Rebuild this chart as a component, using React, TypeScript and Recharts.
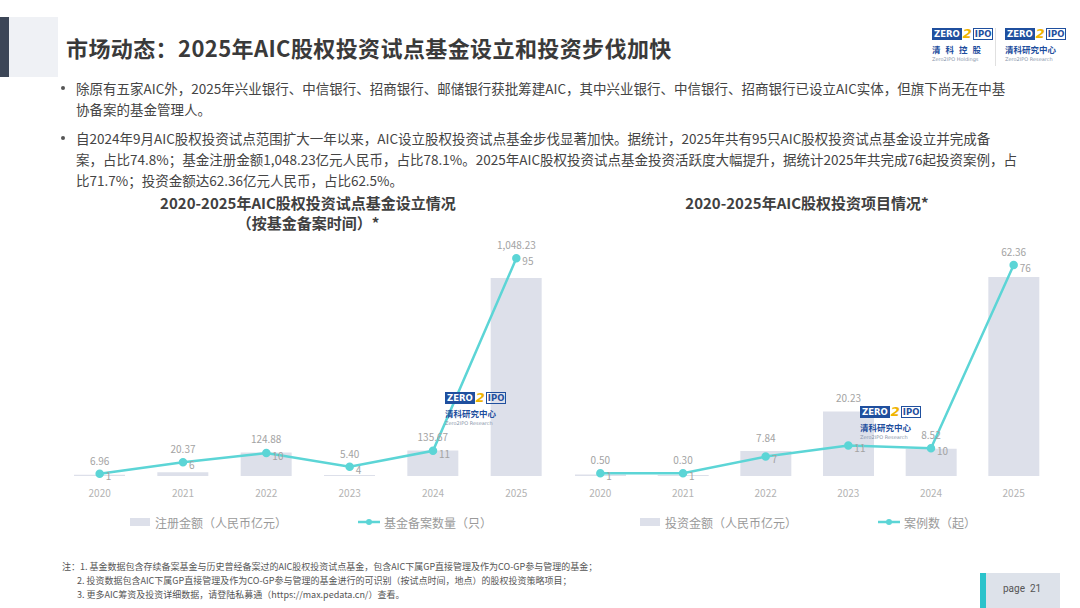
import React from "react";
import { ComposedChart, Bar, Line, XAxis, YAxis, LabelList, Legend } from "recharts";

const years = ["2020", "2021", "2022", "2023", "2024", "2025"];
// 注册金额（人民币亿元）/ 基金备案数量（只）
const fundAmount = [6.96, 20.37, 124.88, 5.4, 135.67, 1048.23];
const fundCount = [1, 6, 10, 4, 11, 95];
// 投资金额（人民币亿元）/ 案例数（起）
const investAmount = [0.5, 0.3, 7.84, 20.23, 8.52, 62.36];
const investCases = [1, 1, 7, 11, 10, 76];

const FONT = '"Noto Sans CJK SC", "Noto Sans", sans-serif';
const BAR = "#dde0ea";
const TEAL = "#5cd5d6";

const fmt = (v: any) =>
  v == null ? "" : Number(v).toLocaleString("en-US", { minimumFractionDigits: 2, maximumFractionDigits: 2 });

// amount label sits on whichever mark stands higher
const buildRows = (amount: number[], count: number[], amtMax: number, cntMax: number) =>
  years.map((year, i) => {
    const barHigher = amount[i] / amtMax >= count[i] / cntMax;
    return {
      year,
      amount: amount[i],
      count: count[i],
      amtOnBar: barHigher ? amount[i] : null,
      amtOnLine: barHigher ? null : amount[i],
    };
  });

const CountLabel = (props: any) => {
  const { x, y, value } = props;
  if (value == null) return null;
  return (
    <text x={x + 6} y={y + 4} dominantBaseline="middle" fill="#a3a3a3" fontSize={10} fontFamily={FONT}>
      {value}
    </text>
  );
};

interface ComboProps {
  amount: number[];
  count: number[];
  amtMax: number;
  cntMax: number;
  width: number;
  barLabel: string;
  lineLabel: string;
  legendPad: number;
  legendGap: number;
}

const ComboChart: React.FC<ComboProps> = ({ amount, count, amtMax, cntMax, width, barLabel, lineLabel, legendPad, legendGap }) => {
  const data = buildRows(amount, count, amtMax, cntMax);
  const labelStyle = { fill: "#a3a3a3", fontSize: 10, fontFamily: FONT };

  const legend = () => (
    <div style={{ height: 40, display: "flex", alignItems: "center", paddingLeft: legendPad, fontFamily: FONT, fontSize: 12, color: "#9a9a9a" }}>
      <div style={{ display: "flex", alignItems: "center", width: legendGap }}>
        <span style={{ display: "inline-block", width: 20, height: 8, background: BAR, marginRight: 5 }} />
        {barLabel}
      </div>
      <div style={{ display: "flex", alignItems: "center" }}>
        <svg width={22} height={10} style={{ marginRight: 4 }}>
          <line x1={0} y1={5} x2={22} y2={5} stroke={TEAL} strokeWidth={2.5} />
          <circle cx={11} cy={5} r={3} fill={TEAL} />
        </svg>
        {lineLabel}
      </div>
    </div>
  );

  return (
    <ComposedChart width={width} height={312} data={data} margin={{ top: 10, right: 0, bottom: 0, left: 0 }}>
      <XAxis
        dataKey="year"
        axisLine={false}
        tickLine={false}
        height={26}
        tick={{ fill: "#b3b3b3", fontSize: 10, fontFamily: FONT, dy: 6 }}
      />
      <YAxis yAxisId="amt" hide domain={[0, amtMax]} />
      <YAxis yAxisId="cnt" hide orientation="right" domain={[0, cntMax]} />
      <Legend verticalAlign="bottom" content={legend} />
      <Bar yAxisId="amt" dataKey="amount" fill={BAR} barSize={51} isAnimationActive={false}>
        <LabelList dataKey="amtOnBar" position="top" offset={9} formatter={fmt} style={labelStyle} />
      </Bar>
      <Line
        yAxisId="cnt"
        dataKey="count"
        type="linear"
        stroke={TEAL}
        strokeWidth={2.5}
        dot={{ r: 3, fill: TEAL, stroke: TEAL }}
        activeDot={false}
        isAnimationActive={false}
      >
        <LabelList dataKey="amtOnLine" position="top" offset={9} formatter={fmt} style={labelStyle} />
        <LabelList dataKey="count" content={CountLabel} />
      </Line>
    </ComposedChart>
  );
};

const Logo: React.FC<{ x: number; y: number; line1: string; line2: string; spaced?: boolean }> = ({ x, y, line1, line2, spaced }) => (
  <div style={{ position: "absolute", left: x, top: y, width: 54, fontFamily: "DejaVu Sans, sans-serif" }}>
    <div style={{ display: "flex", alignItems: "center", height: 13 }}>
      <span style={{ background: "#1f4f9e", color: "#fff", fontSize: 8.5, fontWeight: 700, padding: "0 2px", lineHeight: "12px" }}>ZERO</span>
      <span style={{ color: "#f0b400", fontSize: 13, fontWeight: 700, fontStyle: "italic", lineHeight: "13px", margin: "0 1px" }}>2</span>
      <span style={{ color: "#1f4f9e", border: "1px solid #1f4f9e", fontSize: 8.5, fontWeight: 700, padding: "0 1px", lineHeight: "10px" }}>IPO</span>
    </div>
    <div style={{ color: "#1f4f9e", fontFamily: FONT, fontWeight: 700, fontSize: 8.5, marginTop: 3, letterSpacing: spaced ? 5 : 0, whiteSpace: "nowrap" }}>{line1}</div>
    <div style={{ color: "#8a96aa", fontSize: 5, marginTop: 1, whiteSpace: "nowrap" }}>{line2}</div>
  </div>
);

const bullets = [
  { y: 78, text: "除原有五家AIC外，2025年兴业银行、中信银行、招商银行、邮储银行获批筹建AIC，其中兴业银行、中信银行、招商银行已设立AIC实体，但旗下尚无在中基", dot: true },
  { y: 99, text: "协备案的基金管理人。", dot: false },
  { y: 128, text: "自2024年9月AIC股权投资试点范围扩大一年以来，AIC设立股权投资试点基金步伐显著加快。据统计，2025年共有95只AIC股权投资试点基金设立并完成备", dot: true },
  { y: 149, text: "案，占比74.8%；基金注册金额1,048.23亿元人民币，占比78.1%。2025年AIC股权投资试点基金投资活跃度大幅提升，据统计2025年共完成76起投资案例，占", dot: false },
  { y: 170, text: "比71.7%；投资金额达62.36亿元人民币，占比62.5%。", dot: false },
];

const notes = [
  { x: 62, y: 561, text: "注：1. 基金数据包含存续备案基金与历史曾经备案过的AIC股权投资试点基金，包含AIC下属GP直接管理及作为CO-GP参与管理的基金；" },
  { x: 77, y: 575, text: "2. 投资数据包含AIC下属GP直接管理及作为CO-GP参与管理的基金进行的可识别（按试点时间，地点）的股权投资策略项目；" },
  { x: 77, y: 589, text: "3. 更多AIC筹资及投资详细数据，请登陆私募通（https://max.pedata.cn/）查看。" },
];

const titleStyle: React.CSSProperties = {
  position: "absolute",
  textAlign: "center",
  fontSize: 15,
  fontWeight: 700,
  color: "#404040",
  lineHeight: "20px",
  whiteSpace: "nowrap",
};

export default function App() {
  return (
    <div style={{ position: "absolute", left: 0, top: 0, width: 1080, height: 608, background: "#fff", overflow: "hidden", fontFamily: FONT }}>
      <div style={{ position: "absolute", left: 0, top: 17, width: 9, height: 60, background: "#3c4657" }} />
      <div style={{ position: "absolute", left: 9, top: 17, width: 49, height: 60, background: "#eff1f5" }} />
      <div style={{ position: "absolute", left: 66, top: 32, fontSize: 22, fontWeight: 700, color: "#3a3a3a", whiteSpace: "nowrap", lineHeight: "30px", letterSpacing: 0.4 }}>
        市场动态：2025年AIC股权投资试点基金设立和投资步伐加快
      </div>

      <Logo x={932} y={27} line1="清科控股" line2="Zero2IPO Holdings" spaced />
      <div style={{ position: "absolute", left: 995, top: 28, width: 1, height: 38, background: "#e0e0e0" }} />
      <Logo x={1005} y={27} line1="清科研究中心" line2="Zero2IPO Research" />

      {bullets.map((b) => (
        <React.Fragment key={b.y}>
          {b.dot && <div style={{ position: "absolute", left: 61, top: b.y + 8, width: 4, height: 4, borderRadius: 2, background: "#555" }} />}
          <div style={{ position: "absolute", left: 76, top: b.y, fontSize: 13.5, lineHeight: "20px", color: "#444", whiteSpace: "nowrap" }}>{b.text}</div>
        </React.Fragment>
      ))}

      <div style={{ ...titleStyle, left: 58, width: 500, top: 193 }}>2020-2025年AIC股权投资试点基金设立情况</div>
      <div style={{ ...titleStyle, left: 58, width: 500, top: 213 }}>（按基金备案时间）*</div>
      <div style={{ ...titleStyle, left: 559, width: 496, top: 193 }}>2020-2025年AIC股权投资项目情况*</div>

      <div style={{ position: "absolute", left: 58, top: 230 }}>
        <ComboChart
          amount={fundAmount}
          count={fundCount}
          amtMax={1250}
          cntMax={103}
          width={500}
          barLabel="注册金额（人民币亿元）"
          lineLabel="基金备案数量（只）"
          legendPad={72}
          legendGap={228}
        />
      </div>
      <div style={{ position: "absolute", left: 559, top: 230 }}>
        <ComboChart
          amount={investAmount}
          count={investCases}
          amtMax={74}
          cntMax={85}
          width={496}
          barLabel="投资金额（人民币亿元）"
          lineLabel="案例数（起）"
          legendPad={81}
          legendGap={238}
        />
      </div>

      <Logo x={445} y={391} line1="清科研究中心" line2="Zero2IPO Research" />
      <Logo x={860} y={405} line1="清科研究中心" line2="Zero2IPO Research" />

      {notes.map((n) => (
        <div key={n.y} style={{ position: "absolute", left: n.x, top: n.y, fontSize: 9, lineHeight: "12px", color: "#555", whiteSpace: "nowrap" }}>{n.text}</div>
      ))}

      <div style={{ position: "absolute", left: 980, top: 573, width: 6, height: 35, background: "#2bc3cb" }} />
      <div style={{ position: "absolute", left: 986, top: 573, width: 74, height: 35, background: "#dde2ea" }} />
      <div style={{ position: "absolute", left: 1003, top: 583, fontSize: 10, color: "#555", fontFamily: "Roboto, sans-serif", whiteSpace: "nowrap" }}>page&nbsp;&nbsp;21</div>
    </div>
  );
}
